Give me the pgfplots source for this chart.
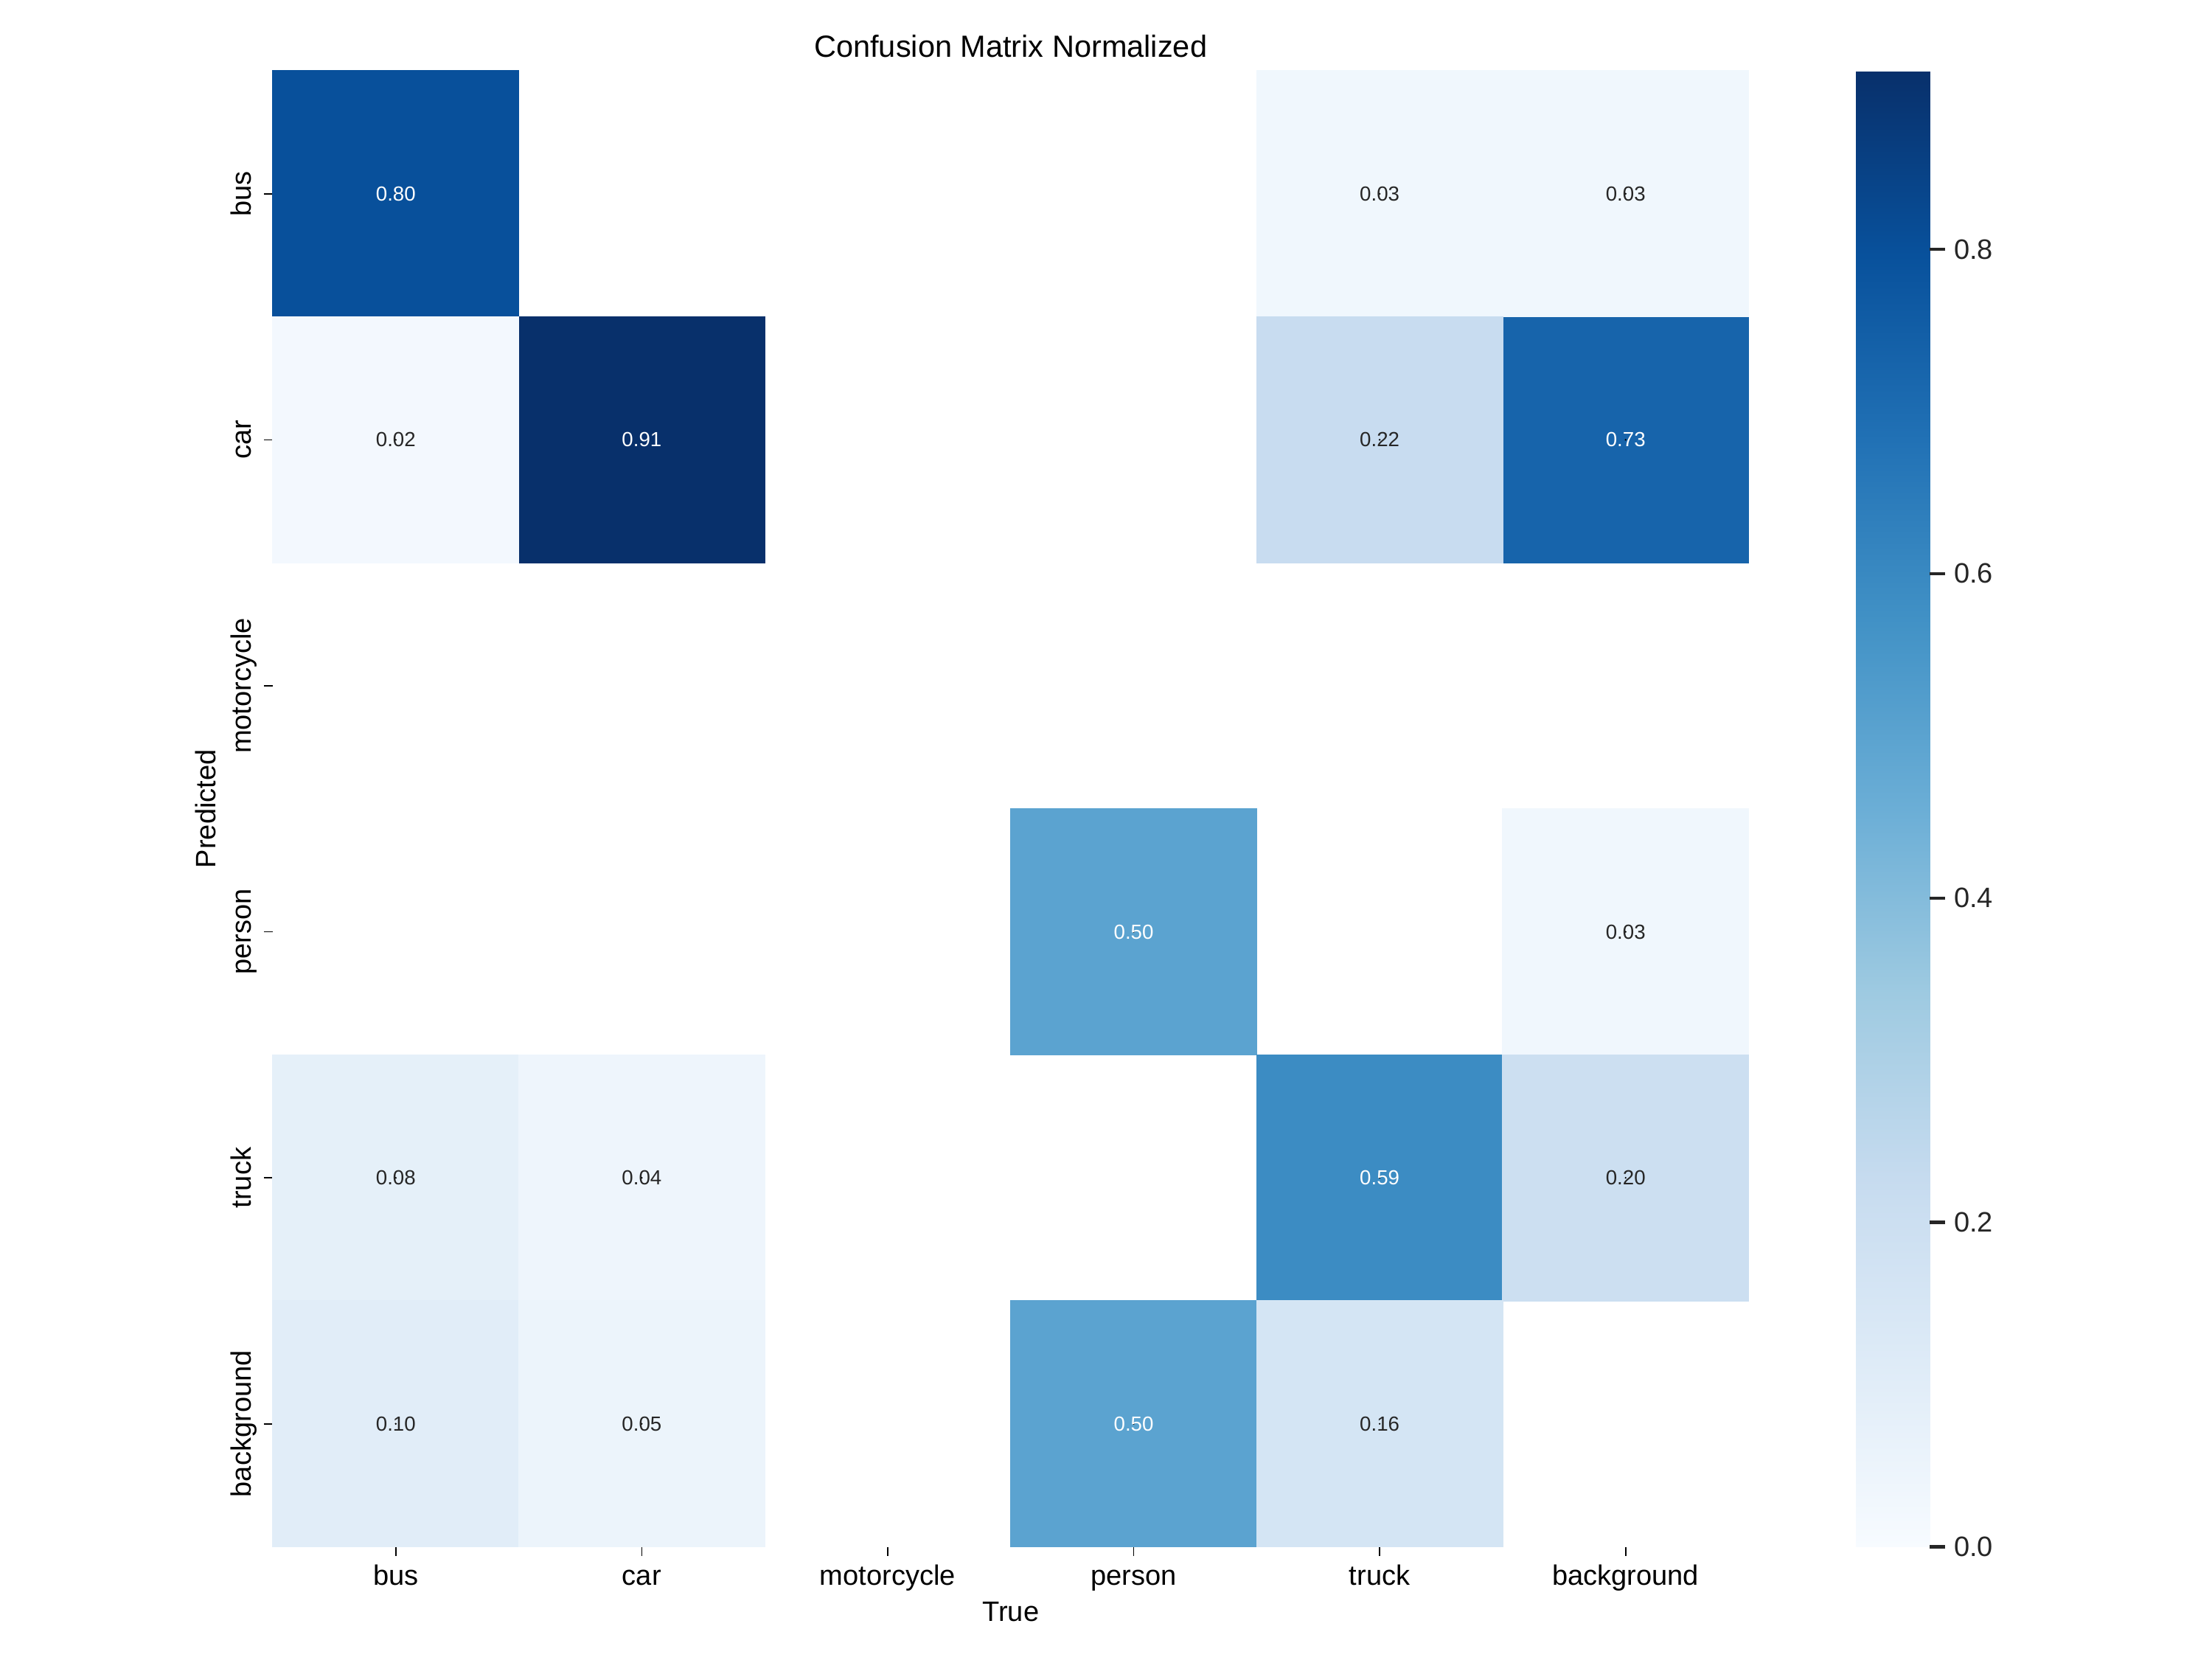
\documentclass[border=0pt]{standalone}
\usepackage{pgfplots}
\pgfplotsset{compat=1.18}
\usepackage{fontspec}
\setmainfont{Liberation Sans}

\definecolor{sbgray}{gray}{0.15}

% matplotlib "Blues"
\pgfplotsset{
  colormap={blues}{
    rgb=(0.968627,0.984314,1.000000)
    rgb=(0.870588,0.921569,0.968627)
    rgb=(0.776471,0.858824,0.937255)
    rgb=(0.619608,0.792157,0.882353)
    rgb=(0.419608,0.682353,0.839216)
    rgb=(0.258824,0.572549,0.776471)
    rgb=(0.129412,0.443137,0.709804)
    rgb=(0.031373,0.317647,0.611765)
    rgb=(0.031373,0.188235,0.419608)
  },
  cellfill/.style={
    scatter, only marks, mark=square*, mark size=48.2pt,
    point meta=explicit,
    scatter/use mapped color={draw=mapped color, fill=mapped color},
  },
  celltext/.style={
    only marks, mark=*, mark size=0.1pt,
    mark options={draw=none, fill=none},
    point meta=explicit,
    nodes near coords={\pgfmathprintnumber[fixed,fixed zerofill,precision=2]{\pgfplotspointmeta}},
    nodes near coords style={anchor=center, text=#1, font=\fontsize{8}{9.6}\selectfont},
  },
}

% x = true class, y = predicted class, v = normalized value
% cells with dark fill (white text)
\pgfplotstableread{
x y v
0 0 0.80
1 1 0.91
5 1 0.73
3 3 0.50
4 4 0.59
3 5 0.50
}\darkcells
% cells with light fill (dark text)
\pgfplotstableread{
x y v
4 0 0.03
5 0 0.03
0 1 0.02
4 1 0.22
5 3 0.03
0 4 0.08
1 4 0.04
5 4 0.20
0 5 0.10
1 5 0.05
4 5 0.16
}\lightcells

\begin{document}
\begin{tikzpicture}
\begin{axis}[
  at={(0,0)}, anchor=south west,
  width=578.6pt, height=578.6pt, scale only axis,
  xmin=-0.5, xmax=5.5, ymin=-0.5, ymax=5.5,
  y dir=reverse,
  xtick={0,...,5}, ytick={0,...,5},
  xticklabels={bus,car,motorcycle,person,truck,background},
  yticklabels={bus,car,motorcycle,person,truck,background},
  xtick pos=bottom, ytick pos=left,
  tick align=outside,
  major tick length=3.5pt,
  tick style={black, line width=0.5pt},
  axis line style={draw=none},
  font=\fontsize{11}{13}\selectfont,
  xticklabel style={text height=7.9pt, text depth=2.3pt},
  yticklabel style={rotate=90, anchor=base},
  yticklabel shift=4.9pt,
  title={Confusion Matrix Normalized},
  title style={at={(axis description cs:0.5,1)}, anchor=base, yshift=-0.6pt,
    font=\fontsize{12}{14}\selectfont},
  xlabel={True},
  xlabel style={at={(axis description cs:0.5,-0.0439)}, anchor=center},
  ylabel={Predicted},
  ylabel style={at={(axis description cs:-0.0455,0.5)}, anchor=center},
  /pgf/number format/assume math mode=true,
  colormap name=blues,
  point meta min=0, point meta max=0.91,
  colorbar,
  colorbar/width=28.9pt,
  colorbar style={
    at={(parent axis.north east)}, anchor=north west, xshift=33.6pt,
    scale only axis, width=28.9pt,
    axis line style={draw=none},
    ytick={0,0.2,0.4,0.6,0.8},
    ytick pos=right,
    yticklabel style={text=sbgray, font=\fontsize{11}{13}\selectfont,
      /pgf/number format/.cd, fixed, fixed zerofill, precision=1,
      assume math mode=true},
    major tick length=6pt, tick align=outside,
    ytick style={draw=sbgray, line width=1.25pt},
  },
]
\addplot[cellfill] table[meta=v] {\darkcells};
\addplot[cellfill] table[meta=v] {\lightcells};
\addplot[celltext=white] table[meta=v] {\darkcells};
\addplot[celltext=sbgray] table[meta=v] {\lightcells};
\end{axis}
\pgfresetboundingbox
\path[use as bounding box] (-106.96pt,-44.23pt) rectangle (760.28pt,606.35pt);
\end{tikzpicture}
\end{document}
